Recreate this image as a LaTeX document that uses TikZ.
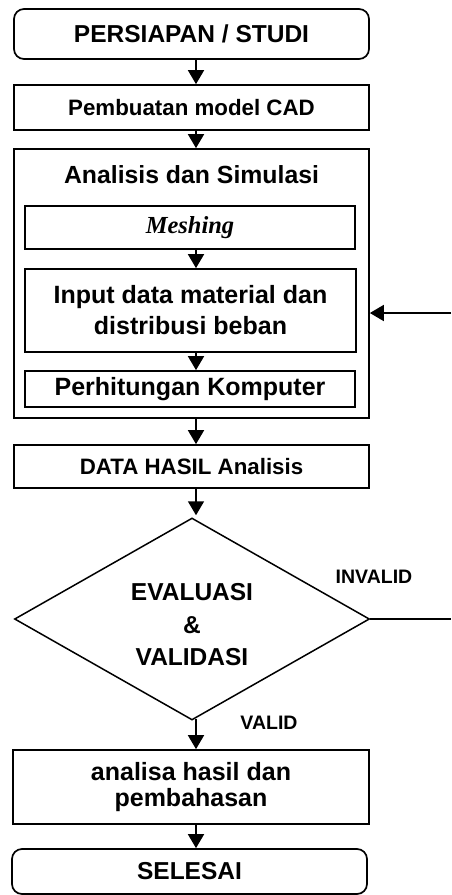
\documentclass[tikz,border=0pt]{standalone}
\usepackage{fontspec}
\setmainfont{Liberation Sans}
\newfontfamily\timesfont{Liberation Serif}
\usetikzlibrary{shapes.geometric,arrows.meta}
\begin{document}
\begin{tikzpicture}[x=1pt,y=-1pt,line width=1.7pt,
  boxs/.style={draw,rectangle,inner sep=0pt,align=center},
  rboxs/.style={boxs,rounded corners=10pt},
  arr/.style={-{Triangle[width=16pt,length=14pt]},line width=1.7pt},
  lbl/.style={inner sep=0pt,font=\bfseries\fontsize{19.5}{22}\selectfont}]
\useasboundingbox (0,0) rectangle (451,895);
\coordinate (ax) at (196,0);

\node[rboxs,minimum width=355pt,minimum height=50pt,font=\bfseries\fontsize{24.5}{28}\selectfont] (start) at (191.5,34) {PERSIAPAN / STUDI};
\node[boxs,minimum width=355pt,minimum height=45pt,font=\bfseries\fontsize{22.3}{26}\selectfont] (cad) at (191.5,107.5) {Pembuatan model CAD};
\node[boxs,minimum width=355pt,minimum height=269pt] (sim) at (191.5,283.5) {};
\node[inner sep=0pt,font=\bfseries\fontsize{24.8}{28}\selectfont] (simt) at (191.5,175) {Analisis dan Simulasi};
\node[boxs,minimum width=330pt,minimum height=43pt,font=\timesfont\bfseries\itshape\fontsize{24.5}{28}\selectfont] (mesh) at (190,227.5) {Meshing};
\node[boxs,minimum width=331pt,minimum height=83pt,font=\bfseries\fontsize{25}{31}\selectfont] (inp) at (190.5,310.5) {Input data material dan\\distribusi beban};
\node[boxs,minimum width=330pt,minimum height=36pt,font=\bfseries\fontsize{25}{28}\selectfont] (comp) at (190,389) {Perhitungan Komputer};
\node[boxs,minimum width=355pt,minimum height=43pt,font=\bfseries\fontsize{22.3}{26}\selectfont] (data) at (191.5,466.5) {DATA HASIL Analisis};
\node[draw,diamond,inner sep=0pt,minimum width=355pt,minimum height=202pt,shape aspect=1.76,line width=1.5pt] (dia) at (192,619) {};
\node[inner sep=0pt,align=center,font=\bfseries\fontsize{24.5}{32.5}\selectfont] (evt) at (192,625) {EVALUASI\\\&\\VALIDASI};
\node[lbl] (inv) at (374,577) {INVALID};
\node[lbl] (val) at (269,723) {VALID};
\node[boxs,minimum width=356pt,minimum height=74pt,font=\bfseries\fontsize{25}{26.5}\selectfont] (ana) at (191,787) {analisa hasil dan\\pembahasan};
\node[rboxs,minimum width=355pt,minimum height=45pt,font=\bfseries\fontsize{24.5}{28}\selectfont] (end) at (189.5,871.5) {SELESAI};

\coordinate (invend) at (451,619);
\coordinate (fbstart) at (451,313);

\draw[arr] (start.south -| ax) -- (cad.north -| ax);
\draw[arr] (cad.south -| ax) -- (sim.north -| ax);
\draw[arr] (mesh.south -| ax) -- (inp.north -| ax);
\draw[arr] (inp.south -| ax) -- (comp.north -| ax);
\draw[arr] (sim.south -| ax) -- (data.north -| ax);
\draw[arr] (data.south -| ax) -- ([yshift=2pt]dia.north -| ax);
\draw[arr] ([yshift=2pt]dia.south -| ax) -- (ana.north -| ax);
\draw[arr] (ana.south -| ax) -- (end.north -| ax);
\draw[line width=1.5pt] (dia.east) -- (dia.east -| invend);
\draw[arr] (fbstart) -- (fbstart -| sim.east);
\end{tikzpicture}
\end{document}
